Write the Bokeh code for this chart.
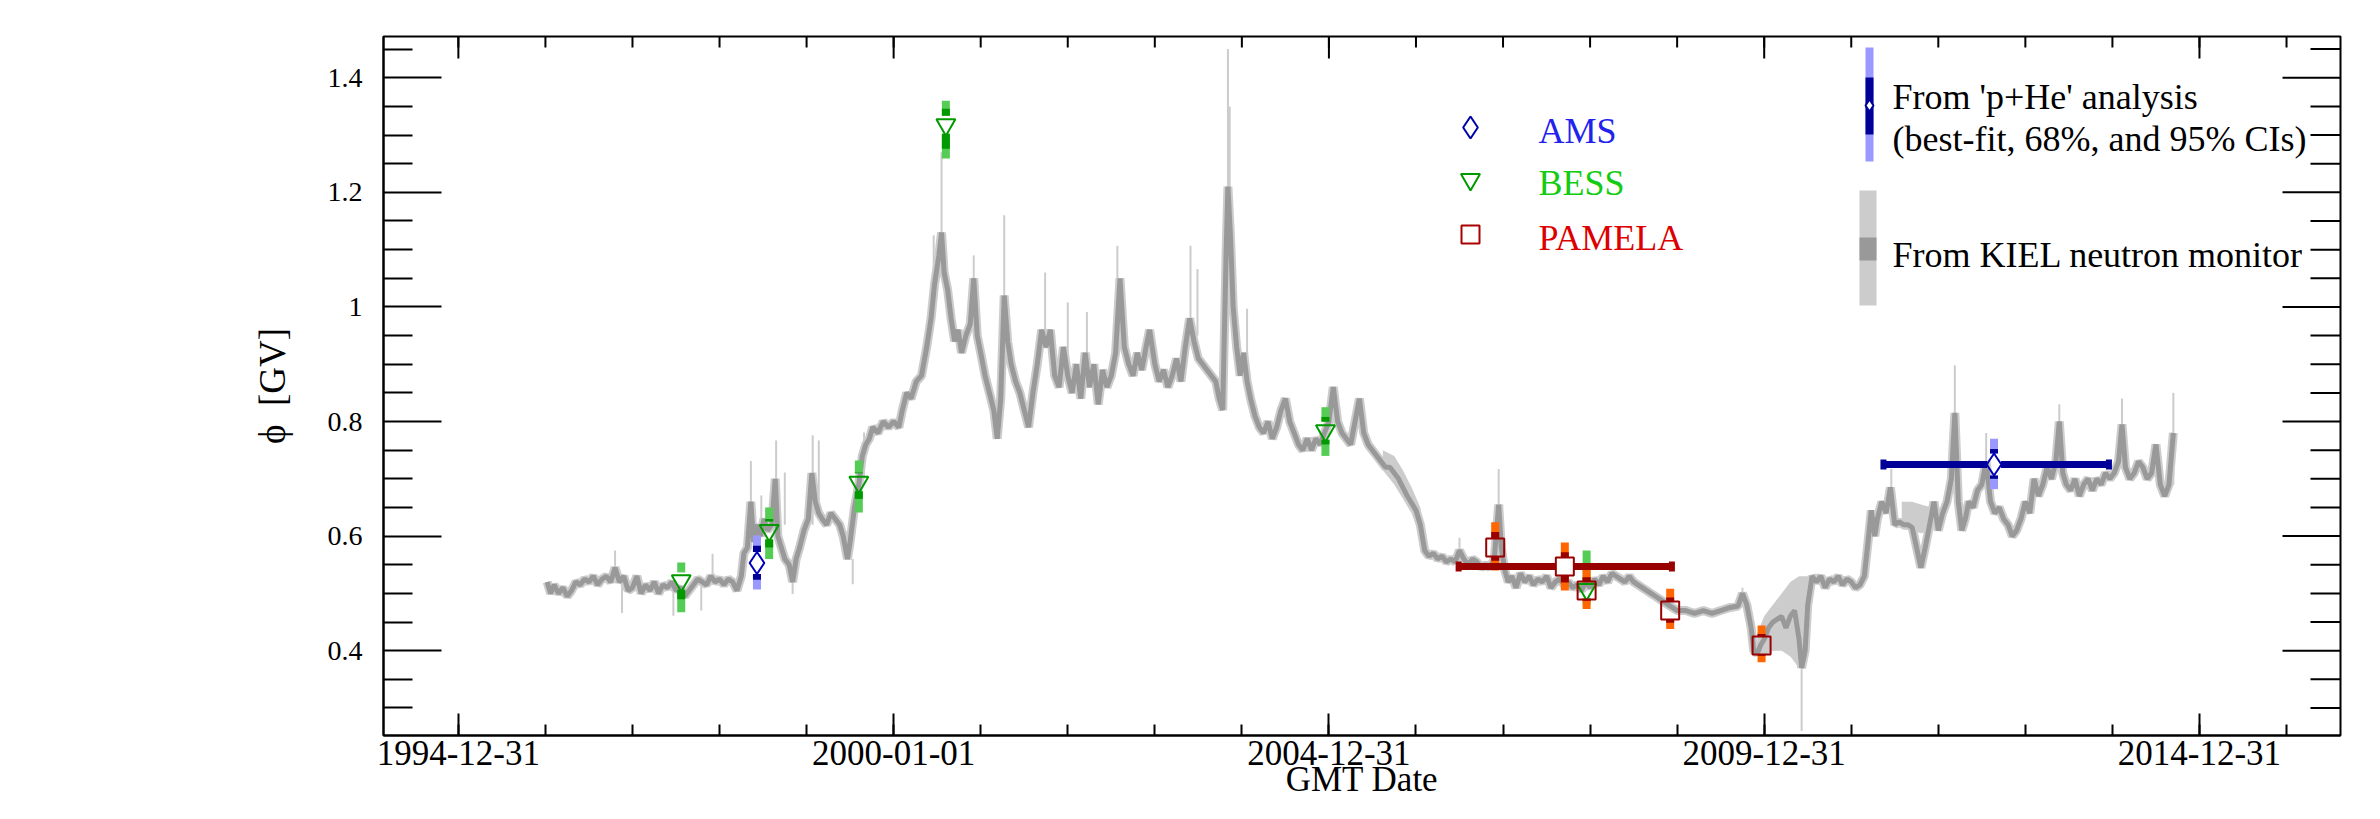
import math
from bokeh.plotting import figure
from bokeh.models import FixedTicker
from bokeh.embed import file_html
from bokeh.resources import INLINE

FONT = "Liberation Serif"

# ---------------- data (years as fractional year, phi in GV) ----------------
kiel_year = [
    1996.02, 1996.06, 1996.10, 1996.15, 1996.20, 1996.25, 1996.30, 1996.35, 1996.40, 1996.45,
    1996.50, 1996.55, 1996.60, 1996.65, 1996.70, 1996.75, 1996.80, 1996.85, 1996.90, 1996.95,
    1997.00, 1997.05, 1997.10, 1997.15, 1997.20, 1997.25, 1997.30, 1997.35, 1997.40, 1997.45,
    1997.50, 1997.55, 1997.60, 1997.65, 1997.70, 1997.75, 1997.80, 1997.85, 1997.90, 1997.95,
    1998.00, 1998.05, 1998.10, 1998.15, 1998.20, 1998.25, 1998.28, 1998.32, 1998.36, 1998.39,
    1998.43, 1998.47, 1998.51, 1998.55, 1998.60, 1998.64, 1998.67, 1998.71, 1998.75, 1998.80,
    1998.84, 1998.88, 1998.92, 1998.97, 1999.02, 1999.06, 1999.10, 1999.14, 1999.18, 1999.23,
    1999.28, 1999.33, 1999.38, 1999.42, 1999.47, 1999.50, 1999.55, 1999.60, 1999.64, 1999.68,
    1999.72, 1999.76, 1999.82, 1999.88, 1999.94, 2000.00, 2000.06, 2000.10, 2000.15, 2000.20,
    2000.26, 2000.32, 2000.38, 2000.43, 2000.47, 2000.52, 2000.55, 2000.58, 2000.62, 2000.66,
    2000.70, 2000.74, 2000.78, 2000.83, 2000.88, 2000.92, 2000.96, 2001.00, 2001.05, 2001.10,
    2001.15, 2001.19, 2001.23, 2001.27, 2001.31, 2001.35, 2001.40, 2001.45, 2001.50, 2001.55,
    2001.60, 2001.65, 2001.70, 2001.75, 2001.80, 2001.85, 2001.90, 2001.95, 2002.00, 2002.05,
    2002.10, 2002.15, 2002.20, 2002.25, 2002.30, 2002.35, 2002.40, 2002.45, 2002.50, 2002.55,
    2002.60, 2002.65, 2002.70, 2002.75, 2002.80, 2002.85, 2002.90, 2002.94, 2003.00, 2003.05,
    2003.10, 2003.15, 2003.20, 2003.25, 2003.30, 2003.35, 2003.40, 2003.45, 2003.50, 2003.55,
    2003.60, 2003.65, 2003.70, 2003.74, 2003.78, 2003.82, 2003.84, 2003.87, 2003.90, 2003.94,
    2003.98, 2004.02, 2004.06, 2004.10, 2004.15, 2004.20, 2004.25, 2004.30, 2004.35, 2004.40,
    2004.45, 2004.50, 2004.55, 2004.60, 2004.65, 2004.70, 2004.75, 2004.80, 2004.85, 2004.90,
    2004.95, 2005.00, 2005.05, 2005.10, 2005.15, 2005.20, 2005.25, 2005.30, 2005.35, 2005.40,
    2005.45, 2005.50, 2005.55, 2005.60, 2005.65, 2005.70, 2005.80, 2005.90, 2006.00, 2006.05,
    2006.10, 2006.15, 2006.20, 2006.25, 2006.30, 2006.35, 2006.40, 2006.45, 2006.50, 2006.55,
    2006.60, 2006.65, 2006.70, 2006.75, 2006.80, 2006.85, 2006.90, 2006.95, 2006.98, 2007.02,
    2007.06, 2007.10, 2007.15, 2007.20, 2007.25, 2007.30, 2007.35, 2007.40, 2007.45, 2007.50,
    2007.55, 2007.60, 2007.65, 2007.70, 2007.75, 2007.80, 2007.85, 2007.90, 2007.95, 2008.00,
    2008.05, 2008.10, 2008.15, 2008.20, 2008.25, 2008.30, 2008.35, 2008.40, 2008.45, 2008.50,
    2008.55, 2008.60, 2008.65, 2008.70, 2008.75, 2008.80, 2008.85, 2008.90, 2008.95, 2009.00,
    2009.10, 2009.20, 2009.30, 2009.40, 2009.50, 2009.60, 2009.70, 2009.75, 2009.80, 2009.85,
    2009.88, 2009.92, 2009.96, 2010.00, 2010.05, 2010.10, 2010.15, 2010.20, 2010.25, 2010.30,
    2010.35, 2010.40, 2010.43, 2010.47, 2010.50, 2010.55, 2010.60, 2010.65, 2010.70, 2010.75,
    2010.80, 2010.85, 2010.90, 2010.95, 2011.00, 2011.05, 2011.10, 2011.15, 2011.20, 2011.23,
    2011.27, 2011.30, 2011.35, 2011.40, 2011.45, 2011.50, 2011.55, 2011.60, 2011.65, 2011.70,
    2011.75, 2011.80, 2011.85, 2011.90, 2011.95, 2012.00, 2012.05, 2012.10, 2012.15, 2012.19,
    2012.23, 2012.27, 2012.31, 2012.35, 2012.40, 2012.45, 2012.50, 2012.55, 2012.60, 2012.65,
    2012.70, 2012.75, 2012.80, 2012.85, 2012.90, 2012.95, 2013.00, 2013.05, 2013.10, 2013.15,
    2013.20, 2013.25, 2013.30, 2013.35, 2013.39, 2013.43, 2013.47, 2013.52, 2013.57, 2013.62,
    2013.67, 2013.72, 2013.77, 2013.82, 2013.87, 2013.92, 2013.97, 2014.02, 2014.07, 2014.11,
    2014.15, 2014.20, 2014.25, 2014.30, 2014.35, 2014.40, 2014.45, 2014.50, 2014.55, 2014.60,
    2014.65, 2014.70,
]
kiel_phi = [
    0.520, 0.500, 0.515, 0.500, 0.510, 0.495, 0.505, 0.520, 0.515, 0.525,
    0.520, 0.530, 0.515, 0.525, 0.530, 0.520, 0.545, 0.520, 0.530, 0.505,
    0.510, 0.530, 0.500, 0.515, 0.505, 0.520, 0.500, 0.515, 0.510, 0.520,
    0.505, 0.510, 0.495, 0.505, 0.515, 0.525, 0.520, 0.515, 0.530, 0.520,
    0.525, 0.515, 0.525, 0.520, 0.505, 0.530, 0.570, 0.580, 0.660, 0.590,
    0.620, 0.600, 0.630, 0.610, 0.620, 0.700, 0.600, 0.580, 0.560, 0.550,
    0.520, 0.560, 0.580, 0.610, 0.630, 0.710, 0.660, 0.640, 0.630, 0.620,
    0.640, 0.630, 0.620, 0.600, 0.560, 0.590, 0.650, 0.690, 0.740, 0.760,
    0.770, 0.790, 0.780, 0.800, 0.790, 0.800, 0.790, 0.820, 0.850, 0.840,
    0.870, 0.880, 0.930, 0.980, 1.040, 1.090, 1.130, 1.060, 1.030, 0.980,
    0.940, 0.960, 0.920, 0.950, 0.970, 1.050, 0.950, 0.920, 0.880, 0.850,
    0.820, 0.770, 0.840, 1.020, 0.940, 0.900, 0.870, 0.850, 0.820, 0.790,
    0.850, 0.900, 0.960, 0.930, 0.960, 0.880, 0.860, 0.930, 0.880, 0.850,
    0.900, 0.840, 0.920, 0.860, 0.900, 0.830, 0.890, 0.860, 0.880, 0.920,
    1.050, 0.930, 0.900, 0.880, 0.920, 0.890, 0.930, 0.960, 0.900, 0.870,
    0.890, 0.860, 0.880, 0.910, 0.870, 0.930, 0.980, 0.940, 0.910, 0.900,
    0.890, 0.880, 0.870, 0.840, 0.820, 1.100, 1.210, 1.120, 1.000, 0.930,
    0.880, 0.920, 0.870, 0.840, 0.810, 0.790, 0.780, 0.800, 0.770, 0.790,
    0.820, 0.840, 0.800, 0.780, 0.760, 0.750, 0.770, 0.750, 0.770, 0.760,
    0.780, 0.800, 0.860, 0.800, 0.780, 0.770, 0.760, 0.800, 0.840, 0.780,
    0.760, 0.750, 0.740, 0.730, 0.720, 0.720, 0.700, 0.670, 0.645, 0.620,
    0.575, 0.565, 0.570, 0.560, 0.565, 0.555, 0.560, 0.555, 0.575, 0.560,
    0.550, 0.560, 0.555, 0.545, 0.550, 0.545, 0.560, 0.655, 0.580, 0.540,
    0.520, 0.530, 0.510, 0.535, 0.520, 0.530, 0.515, 0.525, 0.520, 0.530,
    0.510, 0.520, 0.525, 0.515, 0.520, 0.510, 0.515, 0.505, 0.520, 0.510,
    0.525, 0.515, 0.530, 0.520, 0.535, 0.530, 0.525, 0.520, 0.530, 0.520,
    0.515, 0.510, 0.505, 0.500, 0.495, 0.490, 0.485, 0.480, 0.475, 0.470,
    0.470, 0.465, 0.470, 0.465, 0.470, 0.475, 0.478, 0.500, 0.480, 0.440,
    0.400, 0.395, 0.410, 0.420, 0.440, 0.450, 0.455, 0.460, 0.440, 0.460,
    0.470, 0.420, 0.370, 0.400, 0.480, 0.530, 0.520, 0.530, 0.510, 0.525,
    0.520, 0.530, 0.515, 0.525, 0.520, 0.510, 0.515, 0.530, 0.600, 0.645,
    0.600, 0.630, 0.660, 0.640, 0.685, 0.620, 0.625, 0.620, 0.620, 0.615,
    0.580, 0.545, 0.580, 0.620, 0.660, 0.610, 0.640, 0.660, 0.700, 0.815,
    0.660, 0.610, 0.630, 0.660, 0.650, 0.680, 0.690, 0.730, 0.660, 0.640,
    0.650, 0.630, 0.620, 0.600, 0.610, 0.630, 0.660, 0.640, 0.700, 0.670,
    0.690, 0.720, 0.700, 0.730, 0.800, 0.710, 0.690, 0.680, 0.700, 0.670,
    0.690, 0.700, 0.680, 0.700, 0.690, 0.710, 0.700, 0.710, 0.730, 0.795,
    0.720, 0.700, 0.710, 0.730, 0.720, 0.700, 0.710, 0.760, 0.690, 0.670,
    0.690, 0.780,
]

# thin light-grey excursions of the KIEL reconstruction
spike_year = [1996.80, 1996.88, 1997.47, 1997.79, 1997.92, 1998.36, 1998.48, 1998.65, 1998.75,
              1998.84, 1999.07, 1999.14, 1999.53, 1999.66, 2000.46, 2000.55, 2000.92, 2001.27,
              2001.74, 2002.00, 2002.22, 2002.57, 2003.41, 2003.49, 2003.84, 2003.86, 2004.06,
              2006.50, 2006.95, 2009.75, 2010.43, 2011.46, 2012.19, 2012.55, 2013.39, 2014.11,
              2014.70]
spike_lo = [0.520, 0.466, 0.461, 0.470, 0.520, 0.580, 0.600, 0.620, 0.620,
            0.499, 0.620, 0.640, 0.516, 0.700, 0.980, 1.100, 1.000, 1.020,
            0.950, 0.880, 0.860, 1.000, 0.950, 0.950, 1.210, 1.150, 0.900,
            0.560, 0.600, 0.480, 0.260, 0.650, 0.700, 0.680, 0.720, 0.720,
            0.690]
spike_hi = [0.575, 0.520, 0.510, 0.520, 0.569, 0.731, 0.671, 0.767, 0.711,
            0.550, 0.776, 0.767, 0.560, 0.781, 1.125, 1.270, 1.090, 1.160,
            1.060, 1.008, 0.991, 1.107, 1.107, 1.066, 1.450, 1.350, 0.997,
            0.597, 0.717, 0.510, 0.400, 0.717, 0.898, 0.780, 0.830, 0.840,
            0.850]

# wide (interpolated) stretches of the KIEL uncertainty band
band_year = [[2005.62, 2005.75, 2005.85, 2005.95, 2006.05, 2006.10],
             [2009.92, 2010.00, 2010.10, 2010.20, 2010.30, 2010.40, 2010.50],
             [2011.58, 2011.70, 2011.80, 2011.92]]
band_lo = [[0.715, 0.690, 0.665, 0.640, 0.600, 0.565],
           [0.390, 0.390, 0.400, 0.400, 0.390, 0.370, 0.450],
           [0.612, 0.610, 0.605, 0.610]]
band_hi = [[0.750, 0.740, 0.715, 0.685, 0.650, 0.590],
           [0.430, 0.460, 0.480, 0.500, 0.520, 0.530, 0.530],
           [0.660, 0.660, 0.655, 0.650]]

# experiments: best-fit phi with 68% and 95% intervals
ams_year = [1998.43, 2012.64]
ams_phi = [0.553, 0.725]
ams_lo68 = [0.524, 0.700]
ams_hi68 = [0.583, 0.752]
ams_lo95 = [0.507, 0.682]
ams_hi95 = [0.601, 0.770]

bess_year = [1997.56, 1998.57, 1999.60, 2000.60, 2004.96, 2007.96]
bess_phi = [0.522, 0.610, 0.694, 1.318, 0.784, 0.507]
bess_lo68 = [0.490, 0.580, 0.665, 1.276, 0.760, 0.490]
bess_hi68 = [0.537, 0.630, 0.711, 1.346, 0.808, 0.528]
bess_lo95 = [0.467, 0.560, 0.641, 1.259, 0.740, 0.480]
bess_hi95 = [0.554, 0.650, 0.732, 1.360, 0.825, 0.575]

pamela_year = [2006.91, 2007.71, 2007.96, 2008.92, 2009.97]
pamela_phi = [0.580, 0.547, 0.505, 0.470, 0.409]
pamela_lo68 = [0.557, 0.519, 0.487, 0.449, 0.391]
pamela_hi68 = [0.607, 0.572, 0.528, 0.493, 0.429]
pamela_lo95 = [0.540, 0.505, 0.473, 0.438, 0.380]
pamela_hi95 = [0.624, 0.589, 0.543, 0.508, 0.444]

# data-taking periods of the multi-year measurements
pamela_span = [2006.49, 2008.94]
ams02_span = [2011.37, 2013.96]

x_ticks = [1995, 2000, 2005, 2010, 2015]
x_minor = list(range(1995, 2017))
x_tick_labels = ["1994-12-31", "2000-01-01", "2004-12-31", "2009-12-31", "2014-12-31"]
y_ticks = [0.4, 0.6, 0.8, 1.0, 1.2, 1.4]
y_minor = [0.3, 0.35, 0.45, 0.5, 0.55, 0.65, 0.7, 0.75, 0.85, 0.9, 0.95,
           1.05, 1.1, 1.15, 1.25, 1.3, 1.35, 1.45]
y_tick_labels = ["0.4", "0.6", "0.8", "1", "1.2", "1.4"]

# ---------------- geometry ----------------
W, H = 2364, 803
XMIN, XMAX = 1994.14, 2016.62
YMIN, YMAX = 0.252, 1.472
FL, FR, FT, FB = 383, 2340, 36, 735      # frame edges in figure pixels
PXX = (FR - FL) / (XMAX - XMIN)
PXY = (FB - FT) / (YMAX - YMIN)

def xd(px):   # figure pixel -> data x
    return XMIN + (px - FL) / PXX

def yd(py):   # figure pixel -> data y
    return YMAX - (py - FT) / PXY

p = figure(width=W, height=H, x_range=(XMIN, XMAX), y_range=(YMIN, YMAX),
           output_backend="svg", toolbar_location=None,
           min_border_left=FL, min_border_right=W - FR,
           min_border_top=FT, min_border_bottom=H - FB)
p.background_fill_color = "white"
p.border_fill_color = "white"
p.xgrid.grid_line_color = None
p.ygrid.grid_line_color = None
p.outline_line_color = "black"
p.outline_line_width = 2

def style_axis(ax, tin, min_in):
    ax.axis_line_color = "black"
    ax.axis_line_width = 2
    ax.major_tick_line_color = "black"
    ax.major_tick_line_width = 2
    ax.minor_tick_line_color = "black"
    ax.minor_tick_line_width = 2
    ax.major_tick_in = tin
    ax.major_tick_out = 0
    ax.minor_tick_in = min_in
    ax.minor_tick_out = 0
    ax.major_label_text_font = FONT
    ax.major_label_text_color = "black"
    ax.axis_label_text_font = FONT
    ax.axis_label_text_font_style = "normal"
    ax.axis_label_text_color = "black"
    ax.axis_label_text_font_size = "35px"

xa = p.xaxis[0]
xa.ticker = FixedTicker(ticks=x_ticks, minor_ticks=x_minor)
style_axis(xa, 22, 11)
xa.major_label_overrides = dict(zip(x_ticks, x_tick_labels))
xa.major_label_text_font_size = "35px"
xa.major_label_standoff = 5
xa.axis_label = "GMT Date"
xa.axis_label_standoff = -8

ya = p.yaxis[0]
ya.ticker = FixedTicker(ticks=y_ticks, minor_ticks=y_minor)
style_axis(ya, 58, 29)
ya.major_label_overrides = dict(zip(y_ticks, y_tick_labels))
ya.major_label_text_font_size = "28px"
ya.major_label_standoff = 21
ya.axis_label = "\u03d5\u00a0\u00a0[GV]"
ya.axis_label_text_font_size = "37px"
ya.axis_label_standoff = 32

# mirrored ticks on the top and right frame edges (inside the frame)
p.segment(x0=x_ticks, y0=[YMAX] * len(x_ticks), x1=x_ticks, y1=[yd(FT + 22)] * len(x_ticks),
          line_color="black", line_width=2)
p.segment(x0=x_minor, y0=[YMAX] * len(x_minor), x1=x_minor, y1=[yd(FT + 11)] * len(x_minor),
          line_color="black", line_width=2)
p.segment(x0=[XMAX] * len(y_ticks), y0=y_ticks, x1=[xd(FR - 58)] * len(y_ticks), y1=y_ticks,
          line_color="black", line_width=2)
p.segment(x0=[XMAX] * len(y_minor), y0=y_minor, x1=[xd(FR - 30)] * len(y_minor), y1=y_minor,
          line_color="black", line_width=2)

LIGHT = "#cccccc"
DARK = "#999999"

# KIEL reconstruction
for by, bl, bh in zip(band_year, band_lo, band_hi):
    p.varea(x=by, y1=bl, y2=bh, fill_color=LIGHT)
p.segment(x0=spike_year, y0=spike_lo, x1=spike_year, y1=spike_hi, line_color=LIGHT, line_width=2)
p.line(kiel_year, kiel_phi, line_color=LIGHT, line_width=9, line_join="bevel")
p.line(kiel_year, kiel_phi, line_color=DARK, line_width=5, line_join="bevel")

def error_bars(xs, ys, lo68, hi68, lo95, hi95, c68, c95, gap_px):
    g = gap_px / PXY
    up = [y + g for y in ys]
    dn = [y - g for y in ys]
    p.segment(x0=xs, y0=up, x1=xs, y1=hi95, line_color=c95, line_width=8)
    p.segment(x0=xs, y0=lo95, x1=xs, y1=dn, line_color=c95, line_width=8)
    p.segment(x0=xs, y0=up, x1=xs, y1=hi68, line_color=c68, line_width=8)
    p.segment(x0=xs, y0=lo68, x1=xs, y1=dn, line_color=c68, line_width=8)

def span_bar(span, xc, yc, color, gap_px):
    g = gap_px / PXX
    p.segment(x0=[span[0], xc + g], y0=[yc, yc], x1=[xc - g, span[1]], y1=[yc, yc],
              line_color=color, line_width=7)
    cap = 5 / PXY
    p.segment(x0=span, y0=[yc - cap, yc - cap], x1=span, y1=[yc + cap, yc + cap],
              line_color=color, line_width=6)

# BESS
error_bars(bess_year, bess_phi, bess_lo68, bess_hi68, bess_lo95, bess_hi95, "#009900", "#55cc55", 9)
p.scatter(bess_year, bess_phi, marker="inverted_triangle", size=19, fill_alpha=0,
          line_color="#009900", line_width=2)
# AMS
error_bars(ams_year, ams_phi, ams_lo68, ams_hi68, ams_lo95, ams_hi95, "#000099", "#9999ff", 11)
span_bar(ams02_span, ams_year[1], ams_phi[1], "#000099", 7)
p.scatter(ams_year, ams_phi, marker="diamond", size=22, fill_alpha=0,
          line_color="#0000bb", line_width=2)
# PAMELA
error_bars(pamela_year, pamela_phi, pamela_lo68, pamela_hi68, pamela_lo95, pamela_hi95,
           "#990000", "#ff6600", 9)
span_bar(pamela_span, pamela_year[1], pamela_phi[1], "#990000", 9)
p.scatter(pamela_year, pamela_phi, marker="square", size=18, fill_alpha=0,
          line_color="#990000", line_width=2)

# ---------------- legends ----------------
lx = xd(1470)
p.scatter([lx], [yd(127)], marker="diamond", size=22, fill_alpha=0, line_color="#0000aa", line_width=2)
p.scatter([lx], [yd(179)], marker="inverted_triangle", size=19, fill_alpha=0, line_color="#009900", line_width=2)
p.scatter([lx], [yd(234)], marker="square", size=18, fill_alpha=0, line_color="#aa0000", line_width=2)
p.text(x=[xd(1538)] * 3, y=[yd(130), yd(182), yd(237)], text=["AMS", "BESS", "PAMELA"],
       text_color=["#2222ee", "#11cc11", "#dd0000"], text_font={"value": FONT},
       text_font_size={"value": "36px"}, text_baseline="middle", text_align="left")

bx = xd(1869)
p.segment(x0=[bx], y0=[yd(47)], x1=[bx], y1=[yd(161)], line_color="#9999ff", line_width=8)
p.segment(x0=[bx], y0=[yd(77)], x1=[bx], y1=[yd(134)], line_color="#000099", line_width=8)
p.scatter([bx], [yd(105)], marker="diamond", size=12, fill_color="white", line_color="#000099", line_width=2)
p.quad(left=[xd(1859)], right=[xd(1876)], bottom=[yd(305)], top=[yd(190)], fill_color=LIGHT, line_color=None)
p.quad(left=[xd(1859)], right=[xd(1876)], bottom=[yd(260)], top=[yd(237)], fill_color=DARK, line_color=None)
p.text(x=[xd(1892)] * 3, y=[yd(96), yd(138), yd(254)],
       text=["From 'p+He' analysis", "(best-fit, 68%, and 95% CIs)", "From KIEL neutron monitor"],
       text_color="black", text_font={"value": FONT}, text_font_size={"value": "36px"},
       text_baseline="middle", text_align="left")

open("out.html", "w").write(file_html(p, INLINE))
